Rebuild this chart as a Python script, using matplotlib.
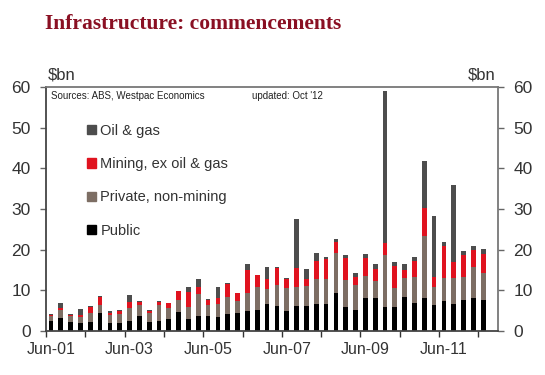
import matplotlib.pyplot as plt
from matplotlib.patches import Patch
import numpy as np

# quarterly, Jun-01 .. Jun-12 ($bn)
public = [2.5, 3.1, 2.3, 2.0, 2.1, 4.45, 2.0, 2.0, 2.45, 3.7,
          2.3, 2.55, 3.0, 4.6, 3.0, 3.8, 3.6, 3.55, 4.1, 4.35,
          5.0, 5.1, 6.7, 6.1, 5.0, 6.25, 6.25, 6.65, 6.75, 9.45,
          6.0, 5.1, 8.0, 8.0, 5.9, 6.0, 8.4, 6.9, 8.0, 6.4,
          7.5, 6.6, 7.7, 8.0, 7.6]
private = [1.2, 2.0, 1.4, 1.5, 2.3, 1.9, 2.0, 2.3, 3.2, 2.7,
           2.05, 3.75, 2.6, 3.0, 2.9, 5.3, 2.7, 3.05, 4.3, 3.05,
           4.4, 5.7, 3.65, 5.2, 5.5, 4.5, 4.75, 6.1, 6.0, 9.8,
           6.6, 6.1, 5.5, 4.3, 12.8, 4.5, 4.55, 6.5, 15.3, 4.45,
           5.5, 6.5, 5.5, 7.7, 6.6]
mining = [0.3, 0.5, 0.3, 0.35, 1.5, 2.0, 0.5, 0.7, 1.45, 0.8,
          0.65, 0.85, 1.25, 2.2, 3.8, 1.8, 1.4, 1.45, 3.1, 1.9,
          5.5, 2.9, 2.45, 4.2, 2.3, 4.7, 1.7, 4.5, 4.9, 2.7,
          5.4, 2.2, 4.35, 2.9, 2.9, 5.6, 2.15, 3.9, 6.9, 2.55,
          8.0, 3.8, 5.5, 4.3, 4.8]
oil_gas = [0.25, 1.4, 0.2, 1.5, 0.3, 0.2, 0.3, 0.2, 1.7, 0.2,
           0.1, 0.25, 0.15, 0.15, 1.05, 1.9, 0.2, 2.65, 0.25, 0.15,
           1.6, 0.15, 2.9, 0.2, 0.2, 12.15, 2.5, 1.9, 0.5, 0.75,
           0.6, 0.8, 1.0, 1.3, 37.3, 0.75, 1.35, 0.8, 11.6, 14.95,
           0.9, 19.0, 1.0, 0.9, 1.1]
xlabels = ['Jun-01', 'Jun-03', 'Jun-05', 'Jun-07', 'Jun-09', 'Jun-11']

c_public = '#000000'
c_private = '#7d6e64'
c_mining = '#e0131f'
c_oil = '#4d4d4d'
txt = '#333333'

plt.rcParams['font.family'] = ['Liberation Sans', 'DejaVu Sans']

fig = plt.figure(figsize=(5.45, 3.75), dpi=100)
ax = fig.add_axes([46/545, 1-331/375, (498-46)/545, (331-87)/375])

x = np.arange(len(public))
w = 0.48
b1 = np.array(public)
b2 = b1 + np.array(private)
b3 = b2 + np.array(mining)
ax.bar(x, public, w, color=c_public)
ax.bar(x, private, w, bottom=b1, color=c_private)
ax.bar(x, mining, w, bottom=b2, color=c_mining)
ax.bar(x, oil_gas, w, bottom=b3, color=c_oil)

ax.set_xlim(-0.5, 45.5)
ax.set_ylim(0, 60)

# year boundaries as tick marks, labels under June bars
ax.set_xticks(np.arange(-0.5, 45, 4))
ax.set_xticklabels([])
ax.set_xticks(np.arange(0, 41, 8), minor=True)
ax.set_xticklabels(xlabels, minor=True, fontsize=11.5, color=txt)
ax.tick_params(axis='x', which='major', direction='out', length=4, width=1, color='#333333')
ax.tick_params(axis='x', which='minor', length=0, pad=8)

ax.set_yticks(range(0, 61, 10))
ax.tick_params(axis='y', which='major', direction='out', length=4, width=1,
               color='#666666', labelsize=12.5, labelcolor=txt,
               left=True, right=True, labelleft=True, labelright=True, pad=7)

for s in ['left', 'bottom']:
    ax.spines[s].set_color('#444444')
    ax.spines[s].set_linewidth(1.3)
for s in ['top', 'right']:
    ax.spines[s].set_color('#777777')
    ax.spines[s].set_linewidth(1.3)

fig.text(0.083, 0.963, 'Infrastructure: commencements', fontsize=15.5,
         fontweight='bold', family='Liberation Serif', color='#8a1023', va='top')
ax.text(0.005, 1.02, '$bn', transform=ax.transAxes, fontsize=12, color=txt, va='bottom')
ax.text(0.995, 1.02, '$bn', transform=ax.transAxes, fontsize=12, color=txt,
        va='bottom', ha='right')
ax.text(0.01, 0.985, 'Sources: ABS, Westpac Economics', transform=ax.transAxes,
        fontsize=7, color='#222222', va='top')
ax.text(0.455, 0.985, "updated: Oct '12", transform=ax.transAxes,
        fontsize=7, color='#222222', va='top')

handles = [Patch(color=c_oil, label='Oil & gas'),
           Patch(color=c_mining, label='Mining, ex oil & gas'),
           Patch(color=c_private, label='Private, non-mining'),
           Patch(color=c_public, label='Public')]
ax.legend(handles=handles, loc='upper left', bbox_to_anchor=(0.062, 0.903),
          frameon=False, fontsize=10.5, handlelength=0.6, handleheight=0.6,
          handletextpad=0.3, labelspacing=1.32, labelcolor=txt)

fig.savefig('out.png', dpi=100)
